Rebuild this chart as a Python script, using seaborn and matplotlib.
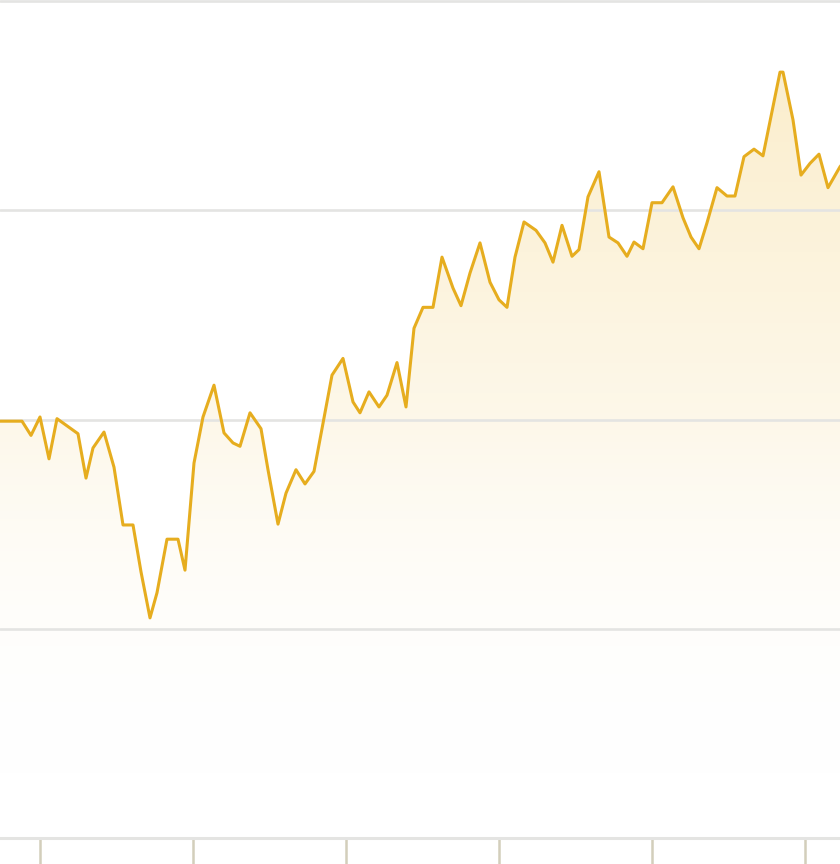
import numpy as np
import pandas as pd
import matplotlib
matplotlib.use("Agg")
import matplotlib.pyplot as plt
import seaborn as sns
from matplotlib.colors import LinearSegmentedColormap

# ---- data ----
day = [0, 22, 31, 40, 49, 57, 78, 86, 93, 104, 114, 123, 133, 141, 150, 157, 167, 178, 185,
       194, 203, 214, 224, 233, 240, 250, 261, 268, 278, 286, 296, 305, 314, 322, 332, 343,
       353, 360, 369, 379, 387, 397, 406, 414, 423, 433, 442, 453, 461, 470, 480, 490, 499,
       507, 515, 524, 536, 545, 553, 562, 572, 579, 588, 599, 609, 618, 627, 634, 643, 652,
       662, 673, 683, 691, 699, 707, 717, 727, 735, 744, 754, 763, 780, 783, 793, 801, 810,
       819, 828, 840, 848]
value = [49.8, 49.8, 48.1, 50.3, 45.3, 50.1, 48.3, 43.0, 46.6, 48.5, 44.3, 37.4, 37.4, 31.8,
         26.3, 29.3, 35.7, 35.7, 32.0, 44.8, 50.3, 54.1, 48.4, 47.2, 46.8, 50.8, 48.9, 44.0,
         37.5, 41.2, 44.0, 42.3, 43.8, 48.9, 55.3, 57.3, 52.1, 50.8, 53.3, 51.5, 52.9, 56.8,
         51.5, 60.9, 63.4, 63.4, 69.4, 65.7, 63.6, 67.5, 71.1, 66.4, 64.3, 63.4, 69.4, 73.6,
         72.6, 71.1, 68.8, 73.2, 69.5, 70.3, 76.6, 79.6, 71.8, 71.1, 69.5, 71.2, 70.4, 75.9,
         75.9, 77.8, 74.1, 71.8, 70.4, 73.5, 77.7, 76.7, 76.7, 81.4, 82.3, 81.5, 91.5, 91.5,
         85.8, 79.2, 80.6, 81.7, 77.7, 80.2, 81.4]
grid_values = [25, 50, 75, 100]
tick_days = [40, 193, 346, 499, 652, 805]

df = pd.DataFrame({"day": day, "value": value})

LINE = "#e6ad1f"
GRID = "#e4e4e2"
TICK = "#d3cebb"

sns.set_theme(style="white")
fig = plt.figure(figsize=(8.4, 8.64), dpi=100)
ax = fig.add_axes([0, 26 / 864, 1, 838 / 864])
ax.set_xlim(0, 840)
ax.set_ylim(0, 100.12)

# gradient fill under the line
poly = ax.fill_between(df["day"], df["value"], 0, color="none", lw=0, zorder=1)
cmap = LinearSegmentedColormap.from_list(
    "fade", [(1, 1, 1, 0), (0.93, 0.72, 0.18, 0.10), (0.93, 0.72, 0.18, 0.24)])
grad = np.linspace(0, 1, 256).reshape(-1, 1)
im = ax.imshow(grad, extent=[0, 848, 6, 92], origin="lower", aspect="auto",
               cmap=cmap, zorder=1, interpolation="bilinear")
path = poly.get_paths()[0]
im.set_clip_path(path, transform=ax.transData)

for g in grid_values:
    ax.axhline(g, color=GRID, lw=1.9, zorder=2, clip_on=False)
ax.axhline(0, color=GRID, lw=2.2, zorder=2, clip_on=False)

sns.lineplot(data=df, x="day", y="value", ax=ax, color=LINE, lw=2.2, zorder=3)

ax.set_xticks(tick_days)
ax.set_xticklabels([])
ax.set_yticks([])
ax.tick_params(axis="x", length=19, width=1.8, color=TICK, direction="out", bottom=True)
for s in ax.spines.values():
    s.set_visible(False)
ax.set_xlabel("")
ax.set_ylabel("")
ax.set_facecolor("none")

fig.savefig("out.png", dpi=100)
